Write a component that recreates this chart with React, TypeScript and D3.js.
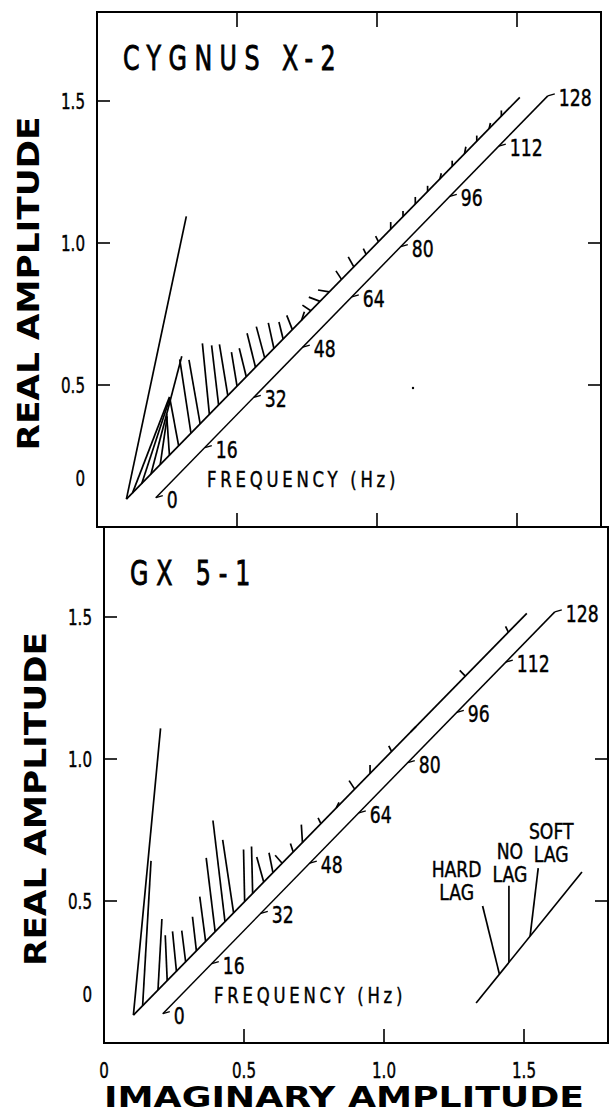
import React from 'react';
import * as d3 from 'd3';

// ---------- data ----------
const axisTicks = [0.5, 1.0, 1.5];
const rightTicks = [0.5, 1.0];
const xTickValues = [0, 0.5, 1.0, 1.5];
const xTickLabels = ['0', '0.5', '1.0', '1.5'];
const yTickValues = [0, 0.5, 1.0, 1.5];
const yTickLabels = ['0', '0.5', '1.0', '1.5'];
const freqTicks = [0, 16, 32, 48, 64, 80, 96, 112, 128];

// Cygnus X-2 cross vectors: frequency (Hz), imaginary (dx), real (dy)
const cygFreq = [0, 2, 5, 8, 11, 14, 17, 21, 24, 27, 30, 33, 36, 39, 42, 45, 48, 51, 54, 57, 60, 63, 66, 70, 74, 78, 82, 86, 90, 94, 98, 102, 106, 110, 114, 118, 122];
const cygImag = [0.214, 0.132, 0.10, 0.11, 0.025, -0.01, -0.032, -0.04, -0.04, -0.025, -0.025, -0.03, -0.02, -0.025, -0.03, -0.03, -0.02, -0.015, -0.02, 0.01, -0.03, -0.04, -0.04, -0.02, -0.02, -0.01, -0.01, 0.0, 0.0, 0.0, 0.0, 0.005, 0.0, 0.005, 0.0, 0.005, 0.0];
const cygReal = [0.996, 0.338, 0.30, 0.415, 0.17, 0.145, 0.17, 0.26, 0.225, 0.25, 0.21, 0.18, 0.12, 0.10, 0.12, 0.11, 0.09, 0.06, 0.05, 0.03, 0.02, 0.015, 0.007, 0.03, 0.035, 0.02, 0.02, 0.025, 0.02, 0.025, 0.02, 0.02, 0.02, 0.025, 0.02, 0.02, 0.02];

// GX 5-1 cross vectors
const gxFreq = [0, 3, 8, 11, 14, 17, 20.5, 23.5, 26.6, 29.8, 32.6, 36.2, 38.8, 42.4, 45.4, 48.4, 52, 55, 61, 66, 72, 77, 84, 92, 108, 122];
const gxImag = [0.097, 0.03, 0.014, -0.007, -0.014, -0.014, -0.014, -0.021, -0.032, -0.043, -0.039, -0.004, -0.004, -0.025, -0.014, -0.025, -0.01, -0.004, -0.01, 0.01, -0.02, 0.0, -0.01, -0.02, -0.02, -0.01];
const gxReal = [1.01, 0.51, 0.25, 0.16, 0.14, 0.11, 0.12, 0.158, 0.26, 0.356, 0.257, 0.183, 0.165, 0.088, 0.07, 0.028, 0.03, 0.063, 0.02, 0.02, 0.03, 0.03, 0.02, -0.02, 0.02, 0.02];

// legend vectors (bottom panel)
const legendNames = ['HARD LAG', 'NO LAG', 'SOFT LAG'];
const legendPos = [0.22, 0.31, 0.51];
const legendImag = [-0.06, 0.0, 0.029];
const legendReal = [0.24, 0.27, 0.24];

// ---------- layout ----------
const W = 613;
const H = 1115;
const FONT = "'DejaVu Sans', sans-serif";
const PX_PER_Y = 284;

type Panel = {
  title: string;
  titleSpacing: number;
  x0: number;
  top: number;
  bottom: number;
  freq: number[];
  imag: number[];
  real: number[];
  legend: boolean;
  showTopTicks: boolean;
};

const panels: Panel[] = [
  { title: 'CYGNUS  X-2', titleSpacing: 10.6, x0: 97, top: 12, bottom: 527, freq: cygFreq, imag: cygImag, real: cygReal, legend: false, showTopTicks: true },
  { title: 'GX  5-1', titleSpacing: 11.2, x0: 104, top: 527, bottom: 1043, freq: gxFreq, imag: gxImag, real: gxReal, legend: true, showTopTicks: false },
];

// diagonal geometry (data units)
const baseStart: [number, number] = [0.105, 0.098];
const baseEnd: [number, number] = [1.51, 1.513];
const freqStart: [number, number] = [0.21, 0.103];
const freqEnd: [number, number] = [1.61, 1.518];
const legStart: [number, number] = [1.329, 0.141];
const legEnd: [number, number] = [1.707, 0.602];
// legend label offsets (px, relative to vector tip)
const legendLabelDx = [-26, 1, 13];
const legendLabelDy = [-29, -27, -29];

function lerp(a: [number, number], b: [number, number], t: number): [number, number] {
  return [a[0] + (b[0] - a[0]) * t, a[1] + (b[1] - a[1]) * t];
}

function CText(props: { x: number; y: number; sx: number; size: number; ls?: number; anchor?: string; weight?: string; sw?: number; children: React.ReactNode }) {
  const { x, y, sx, size, ls = 0, anchor = 'start', weight = 'normal', sw = 0.45 } = props;
  return (
    <text
      transform={`translate(${x},${y}) scale(${sx},1)`}
      fontFamily={FONT}
      fontSize={size}
      fontWeight={weight}
      letterSpacing={ls}
      textAnchor={anchor}
      stroke={sw > 0 ? '#000' : 'none'}
      strokeWidth={sw}
      fill="#000"
    >
      {props.children}
    </text>
  );
}

function PanelView({ p }: { p: Panel }) {
  const x = d3.scaleLinear().domain([0, 1.8]).range([p.x0, p.x0 + 504]);
  const yMax = (p.bottom - p.top) / PX_PER_Y;
  const y = d3.scaleLinear().domain([0, yMax]).range([p.bottom, p.top]);
  const xMax = 1.8;
  const tl = 13;
  const line = d3.line<[number, number]>().x(d => x(d[0])).y(d => y(d[1]));
  const sw = 1.7;

  return (
    <g>
      {/* frame */}
      <rect x={x(0)} y={y(yMax)} width={x(xMax) - x(0)} height={y(0) - y(yMax)} fill="none" stroke="#000" strokeWidth={2} />
      {/* ticks */}
      {axisTicks.map(v => (
        <g key={'t' + v}>
          <line x1={x(v)} x2={x(v)} y1={y(0)} y2={y(0) - tl - 1} stroke="#000" strokeWidth={1.6} />
          {p.showTopTicks && <line x1={x(v)} x2={x(v)} y1={y(yMax)} y2={y(yMax) + tl + 2} stroke="#000" strokeWidth={1.6} />}
          <line x1={x(0)} x2={x(0) + tl} y1={y(v)} y2={y(v)} stroke="#000" strokeWidth={1.6} />
        </g>
      ))}
      {rightTicks.map(v => (
        <line key={'r' + v} x1={x(xMax)} x2={x(xMax) - tl} y1={y(v)} y2={y(v)} stroke="#000" strokeWidth={1.6} />
      ))}
      {/* y tick labels */}
      {yTickValues.map((v, i) => (
        <CText key={'yl' + v} x={x(0) - 12} y={v === 0 ? y(0) - 41 : y(v) + 8} sx={0.72} size={21} anchor="end">{yTickLabels[i]}</CText>
      ))}
      {/* y axis title */}
      <text transform={`translate(${x(0) - 58},${(y(0) + y(yMax)) / 2 + 14}) rotate(-90)`} textAnchor="middle" fontFamily={FONT} fontWeight="bold" fontSize={30} textLength={334} lengthAdjust="spacingAndGlyphs">REAL AMPLITUDE</text>
      {/* panel title */}
      <CText x={x(0) + 26} y={y(0) - (p.bottom - p.top) + 58} sx={0.7} size={34} ls={p.titleSpacing} sw={0.9}>{p.title}</CText>

      {/* base (no-lag) diagonal */}
      <path d={line([baseStart, baseEnd]) || ''} stroke="#000" strokeWidth={sw} fill="none" />
      {/* frequency scale diagonal */}
      <path d={line([freqStart, freqEnd]) || ''} stroke="#000" strokeWidth={1.5} fill="none" />
      {freqTicks.map(f => {
        const pt = lerp(freqStart, freqEnd, f / 128);
        const px = x(pt[0]);
        const py = y(pt[1]);
        return (
          <g key={'f' + f}>
            <line x1={px} x2={px + 7} y1={py} y2={py - 2} stroke="#000" strokeWidth={1.3} />
            <CText x={px + 11} y={py + 10} sx={0.75} size={23}>{String(f)}</CText>
          </g>
        );
      })}
      <CText x={x(0.393)} y={y(0.142)} sx={0.75} size={22} ls={5}>FREQUENCY (Hz)</CText>

      {/* cross vectors */}
      {p.freq.map((f, i) => {
        const b = lerp(baseStart, baseEnd, f / 128);
        const t: [number, number] = [b[0] + p.imag[i], b[1] + p.real[i]];
        return <path key={'v' + i} d={line([b, t]) || ''} stroke="#000" strokeWidth={sw} fill="none" />;
      })}

      {/* legend */}
      {p.legend && (
        <g>
          <path d={line([legStart, legEnd]) || ''} stroke="#000" strokeWidth={sw} fill="none" />
          {legendNames.map((n, i) => {
            const b = lerp(legStart, legEnd, legendPos[i]);
            const t: [number, number] = [b[0] + legendImag[i], b[1] + legendReal[i]];
            const words = n.split(' ');
            const tx = x(t[0]) + legendLabelDx[i];
            const ty = y(t[1]) + legendLabelDy[i];
            return (
              <g key={n}>
                <path d={line([b, t]) || ''} stroke="#000" strokeWidth={sw} fill="none" />
                <CText x={tx} y={ty} sx={0.82} size={21} anchor="middle">{words[0]}</CText>
                <CText x={tx} y={ty + 23} sx={0.82} size={21} anchor="middle">{words[1]}</CText>
              </g>
            );
          })}
        </g>
      )}
    </g>
  );
}

export default function App() {
  const bottom = panels[1];
  const xb = d3.scaleLinear().domain([0, 1.8]).range([bottom.x0, bottom.x0 + 504]);
  return (
    <svg width={W} height={H} style={{ position: 'absolute', left: 0, top: 0, background: '#fff' }}>
      <rect x={0} y={0} width={W} height={H} fill="#fff" />
      {panels.map((p, i) => <PanelView key={i} p={p} />)}
      {xTickValues.map((v, i) => (
        <CText key={'xl' + v} x={xb(v)} y={1078} sx={0.72} size={21} anchor="middle">{xTickLabels[i]}</CText>
      ))}
      <text x={(xb(0) + xb(1.715)) / 2} y={1107} textAnchor="middle" fontFamily={FONT} fontWeight="bold" fontSize={28} textLength={480} lengthAdjust="spacingAndGlyphs">IMAGINARY AMPLITUDE</text>
      <circle cx={413} cy={388} r={1.2} fill="#000" />
    </svg>
  );
}
